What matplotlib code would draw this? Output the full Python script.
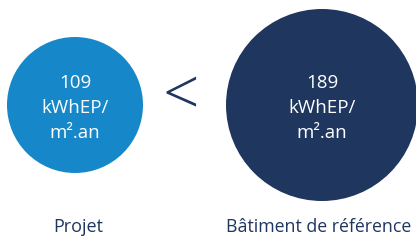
import matplotlib
matplotlib.use("Agg")
import matplotlib.pyplot as plt
from matplotlib.patches import Circle

# Data
categories = ["Projet", "Bâtiment de référence"]
values = [109, 189]
unit_line1 = "kWhEP/"
unit_line2 = "m².an"
comparator = "<"

# Layout / style
colors = ["#1688C9", "#1F365F"]
centers_x = [75, 322]
center_y = 105
radii = [68, 96]
label_y = 227
text_color = "#1F365F"

plt.rcParams['font.family'] = ['Open Sans', 'DejaVu Sans']

fig = plt.figure(figsize=(4.16, 2.40), dpi=100)
ax = fig.add_axes([0, 0, 1, 1])
ax.set_xlim(0, 416)
ax.set_ylim(240, 0)
ax.set_aspect('equal')
ax.axis('off')

for i, (cat, val) in enumerate(zip(categories, values)):
    cx = centers_x[i]
    ax.add_patch(Circle((cx, center_y), radii[i], color=colors[i], lw=0))
    ax.text(cx, center_y - 22, f"{val}", color="white", ha="center", va="center", fontsize=13.5)
    ax.text(cx, center_y + 3, unit_line1, color="white", ha="center", va="center", fontsize=13.5)
    ax.text(cx, center_y + 28, unit_line2, color="white", ha="center", va="center", fontsize=13.5)

ax.text(centers_x[0] + 3, label_y, categories[0], color=text_color, ha="center", va="center", fontsize=13)
ax.text(226, label_y, categories[1], color=text_color, ha="left", va="center", fontsize=12.8)

ax.text(181, 99, comparator, color=text_color, ha="center", va="center", fontsize=46, fontweight="light")

fig.savefig("out.png", dpi=100)
